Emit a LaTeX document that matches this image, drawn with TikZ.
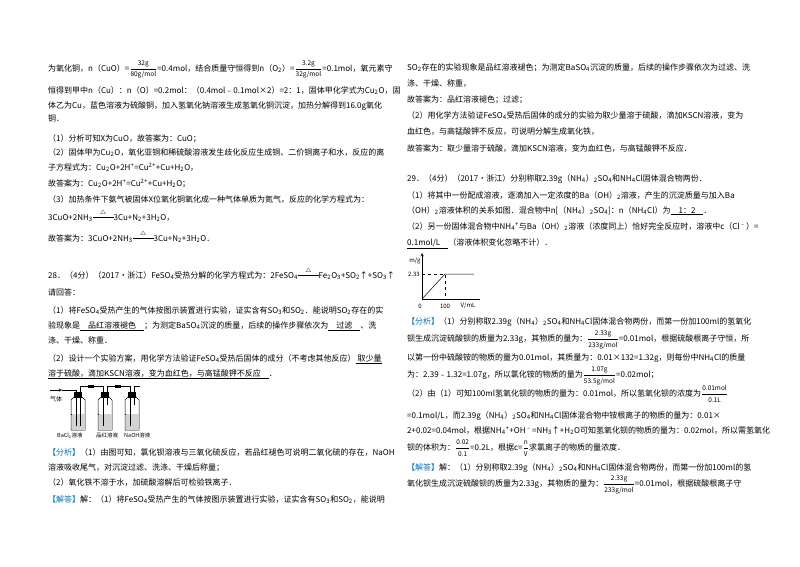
\documentclass[tikz,border=0pt]{standalone}
\usepackage{amsmath}
\usepackage{fontspec}
\setmainfont{Noto Sans CJK SC}
\newcommand{\Sb}[1]{\textsubscript{#1}}
\newcommand{\Sp}[1]{\textsuperscript{#1}}
\newcommand{\fr}[2]{$\dfrac{\text{\fontsize{6.5}{7}\selectfont #1}}{\text{\fontsize{6.5}{7}\selectfont #2}}$}
\newcommand{\heat}{$\stackrel{\triangle}{\rule[0.6ex]{2.6em}{0.4pt}}$}
\definecolor{tagblue}{RGB}{0,112,192}
\newcommand{\Tg}[1]{\textcolor{tagblue}{【#1】}}
\begin{document}
\begin{tikzpicture}[x=1pt,y=-1pt,
  t/.style={anchor=base west,inner sep=0pt,font=\fontsize{8}{10}\selectfont},
  ax/.style={line width=0.5pt},
  bottle/.style={draw,line width=0.5pt}]
\useasboundingbox (0,0) rectangle (800,566);
% ---------- left column
\node[t] (l1) at (48,71) {为氧化铜，n（CuO）=\fr{32g}{80g/mol}=0.4mol，结合质量守恒得到n（O\Sb{2}）=\fr{3.2g}{32g/mol}=0.1mol，氧元素守};
\node[t] (l2) at (48,93) {恒得到甲中n（Cu）：n（O）=0.2mol：（0.4mol﹣0.1mol×2）=2：1，固体甲化学式为Cu\Sb{2}O，固};
\node[t] (l3) at (48,108) {体乙为Cu，蓝色溶液为硫酸铜，加入氢氧化钠溶液生成氢氧化铜沉淀，加热分解得到16.0g氧化};
\node[t] (l4) at (48,121) {铜．};
\node[t] (l5) at (48,141) {（1）分析可知X为CuO，故答案为：CuO；};
\node[t] (l6) at (48,155) {（2）固体甲为Cu\Sb{2}O，氧化亚铜和稀硫酸溶液发生歧化反应生成铜、二价铜离子和水，反应的离};
\node[t] (l7) at (48,170) {子方程式为：Cu\Sb{2}O+2H\Sp{+}=Cu\Sp{2+}+Cu+H\Sb{2}O，};
\node[t] (l8) at (48,186) {故答案为：Cu\Sb{2}O+2H\Sp{+}=Cu\Sp{2+}+Cu+H\Sb{2}O；};
\node[t] (l9) at (48,202) {（3）加热条件下氨气被固体X位氧化铜氧化成一种气体单质为氮气，反应的化学方程式为：};
\node[t] (l10) at (48,220) {3CuO+2NH\Sb{3}\heat 3Cu+N\Sb{2}+3H\Sb{2}O，};
\node[t] (l11) at (48,241) {故答案为：3CuO+2NH\Sb{3}\heat 3Cu+N\Sb{2}+3H\Sb{2}O．};
\node[t] (l12) at (48,278) {28．（4分）（2017•浙江）FeSO\Sb{4}受热分解的化学方程式为：2FeSO\Sb{4}\heat Fe\Sb{2}O\Sb{3}+SO\Sb{2}↑+SO\Sb{3}↑};
\node[t] (l13) at (48,295) {请回答：};
\node[t] (l14) at (48,313) {（1）将FeSO\Sb{4}受热产生的气体按图示装置进行实验，证实含有SO\Sb{3}和SO\Sb{2}．能说明SO\Sb{2}存在的实};
\node[t] (l15) at (48,328) {验现象是\underline{\quad 品红溶液褪色\quad}；为测定BaSO\Sb{4}沉淀的质量，后续的操作步骤依次为\underline{\quad 过滤\quad}、洗};
\node[t] (l16) at (48,343) {涤、干燥、称重．};
\node[t] (l17) at (48,361) {（2）设计一个实验方案，用化学方法验证FeSO\Sb{4}受热后固体的成分（不考虑其他反应）\underline{\ 取少量}};
\node[t] (l18) at (48,376) {\underline{溶于硫酸，滴加KSCN溶液，变为血红色，与高锰酸钾不反应\quad}．};
% apparatus
\node[t,font=\fontsize{6}{7}\selectfont] (gas) at (50,401) {气体};
\coordinate (g0) at (50,390);
\coordinate (g1) at (62,390);
\draw[->,>=stealth,line width=0.5pt] (g0) -- (g1);
\foreach \i/\xx in {1/78,2/105,3/132}{
  \draw[bottle] (\xx-7,400) -- (\xx-7,430) -- (\xx+7,430) -- (\xx+7,400) -- (\xx+4,397) -- (\xx-4,397) -- cycle;
  \fill (\xx-4,392) rectangle (\xx+4,398);
  \draw[line width=0.4pt] (\xx-7,414) -- (\xx+7,414);
  \fill[gray!35] (\xx-6.5,414.3) rectangle (\xx+6.5,429.6);
}
\draw[line width=0.5pt] (62,390) -- (76,390) -- (76,426);
\draw[line width=0.5pt] (80,426) -- (80,386) -- (103,386) -- (103,426);
\draw[line width=0.5pt] (107,405) -- (107,386) -- (130,386) -- (130,426);
\draw[line width=0.5pt] (134,405) -- (134,386) -- (140,386);
\fill (88,384.5) rectangle (94,387.5);
\fill (115,384.5) rectangle (121,387.5);
\node[t,font=\fontsize{5.5}{6}\selectfont] (b1) at (57,437) {BaCl\Sb{2}溶液};
\node[t,font=\fontsize{5.5}{6}\selectfont] (b2) at (96,437) {品红溶液};
\node[t,font=\fontsize{5.5}{6}\selectfont] (b3) at (124,437) {NaOH溶液};
\node[t] (l19) at (48,455) {\Tg{分析}（1）由图可知，氯化钡溶液与三氧化硫反应，若品红褪色可说明二氧化硫的存在，NaOH};
\node[t] (l20) at (48,470) {溶液吸收尾气，对沉淀过滤、洗涤、干燥后称量；};
\node[t] (l21) at (48,485) {（2）氧化铁不溶于水，加硫酸溶解后可检验铁离子．};
\node[t] (l22) at (48,502) {\Tg{解答}解：（1）将FeSO\Sb{4}受热产生的气体按图示装置进行实验，证实含有SO\Sb{3}和SO\Sb{2}，能说明};
% ---------- right column
\node[t] (r1) at (407,70) {SO\Sb{2}存在的实验现象是品红溶液褪色；为测定BaSO\Sb{4}沉淀的质量，后续的操作步骤依次为过滤、洗};
\node[t] (r2) at (407,86) {涤、干燥、称重，};
\node[t] (r3) at (407,102) {故答案为：品红溶液褪色；过滤；};
\node[t] (r4) at (407,118) {（2）用化学方法验证FeSO\Sb{4}受热后固体的成分的实验为取少量溶于硫酸，滴加KSCN溶液，变为};
\node[t] (r5) at (407,134) {血红色，与高锰酸钾不反应，可说明分解生成氧化铁，};
\node[t] (r6) at (407,151) {故答案为：取少量溶于硫酸，滴加KSCN溶液，变为血红色，与高锰酸钾不反应．};
\node[t] (r7) at (407,181) {29．（4分）（2017•浙江）分别称取2.39g（NH\Sb{4}）\Sb{2}SO\Sb{4}和NH\Sb{4}Cl固体混合物两份．};
\node[t] (r8) at (407,198) {（1）将其中一份配成溶液，逐滴加入一定浓度的Ba（OH）\Sb{2}溶液，产生的沉淀质量与加入Ba};
\node[t] (r9) at (407,213) {（OH）\Sb{2}溶液体积的关系如图．混合物中n[（NH\Sb{4}）\Sb{2}SO\Sb{4}]：n（NH\Sb{4}Cl）为\underline{\quad 1：2\quad}．};
\node[t] (r10) at (407,229) {（2）另一份固体混合物中NH\Sb{4}\Sp{+}与Ba（OH）\Sb{2}溶液（浓度同上）恰好完全反应时，溶液中c（Cl\Sp{﹣}）=};
\node[t] (r11) at (407,245) {\underline{0.1mol/L\quad}（溶液体积变化忽略不计）．};
% graph
\coordinate (O) at (422,299);
\coordinate (Ytop) at (422,253);
\coordinate (Xend) at (480,299);
\coordinate (P) at (445,274);
\coordinate (E) at (474,274);
\draw[->,>=stealth,ax] (O) -- (Ytop);
\draw[ax] (O) -- (Xend);
\draw[ax] (O) -- (P) -- (E);
\draw[dashed,line width=0.4pt] (422,274) -- (P) -- (445,299);
\node[font=\fontsize{6}{7}\selectfont\itshape,inner sep=0] (my) at (415,261) {m/g};
\node[font=\fontsize{6}{7}\selectfont,inner sep=0,anchor=east] (m233) at (420,274) {2.33};
\node[font=\fontsize{6}{7}\selectfont,inner sep=0] (o0) at (420,306) {0};
\node[font=\fontsize{6}{7}\selectfont,inner sep=0] (x100) at (445,306) {100};
\node[font=\fontsize{6}{7}\selectfont,inner sep=0] (xv) at (468,306) {\textit{V}/mL};
\node[t] (r12) at (407,324) {\Tg{分析}（1）分别称取2.39g（NH\Sb{4}）\Sb{2}SO\Sb{4}和NH\Sb{4}Cl固体混合物两份，而第一份加100ml的氢氧化};
\node[t] (r13) at (407,341) {钡生成沉淀硫酸钡的质量为2.33g，其物质的量为：\fr{2.33g}{233g/mol}=0.01mol，根据硫酸根离子守恒，所};
\node[t] (r14) at (407,360) {以第一份中硫酸铵的物质的量为0.01mol，其质量为：0.01×132=1.32g，则每份中NH\Sb{4}Cl的质量};
\node[t] (r15) at (407,377) {为：2.39﹣1.32=1.07g，所以氯化铵的物质的量为\fr{1.07g}{53.5g/mol}=0.02mol；};
\node[t] (r16) at (407,396) {（2）由（1）可知100ml氢氧化钡的物质的量为：0.01mol，所以氢氧化钡的浓度为\fr{0.01mol}{0.1L}};
\node[t] (r17) at (407,418) {=0.1mol/L，而2.39g（NH\Sb{4}）\Sb{2}SO\Sb{4}和NH\Sb{4}Cl固体混合物中铵根离子的物质的量为：0.01×};
\node[t] (r18) at (407,433) {2+0.02=0.04mol，根据NH\Sb{4}\Sp{+}+OH\Sp{﹣}=NH\Sb{3}↑+H\Sb{2}O可知氢氧化钡的物质的量为：0.02mol，所以需氢氧化};
\node[t] (r19) at (407,450) {钡的体积为：\fr{0.02}{0.1}=0.2L，根据c=$\dfrac{\text{\fontsize{6.5}{7}\selectfont n}}{\text{\fontsize{6.5}{7}\selectfont V}}$求氯离子的物质的量浓度．};
\node[t] (r20) at (407,470) {\Tg{解答}解：（1）分别称取2.39g（NH\Sb{4}）\Sb{2}SO\Sb{4}和NH\Sb{4}Cl固体混合物两份，而第一份加100ml的氢};
\node[t] (r21) at (407,486) {氧化钡生成沉淀硫酸钡的质量为2.33g，其物质的量为：\fr{2.33g}{233g/mol}=0.01mol，根据硫酸根离子守};
\end{tikzpicture}
\end{document}
